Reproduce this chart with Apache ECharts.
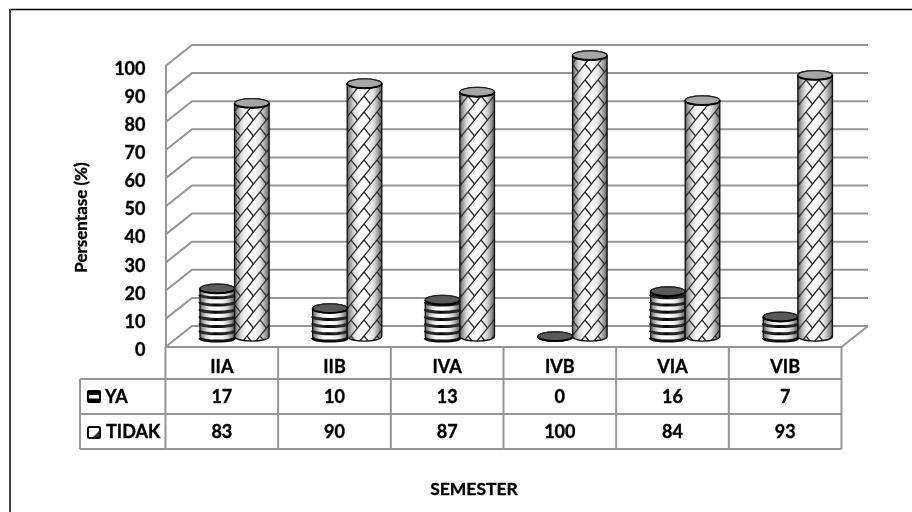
<!DOCTYPE html>
<html>
<head>
<meta charset="utf-8">
<style>html,body{margin:0;padding:0;background:#fff}#chart{width:912px;height:512px}</style>
<script src="https://cdn.jsdelivr.net/npm/echarts@6/dist/echarts.min.js"></script>
</head>
<body>
<div id="chart"></div>
<script>
// Survey shares per semester class
const categories = ['IIA', 'IIB', 'IVA', 'IVB', 'VIA', 'VIB'];
const yaValues = [17, 10, 13, 0, 16, 7];
const tidakValues = [83, 90, 87, 100, 84, 93];
const yTicks = [0, 10, 20, 30, 40, 50, 60, 70, 80, 90, 100];

const FONT = 'Lato, "Open Sans", sans-serif';
const GREY = '#969696';
const INK = { color: '#000', fontFamily: FONT, fontWeight: 'bold', textBorderColor: '#000', textBorderWidth: 0.35 };
// Pseudo-3D geometry: the wall sits behind the axis plane, cylinders halfway between
const WALL_DX = 26.5, WALL_DY = -21;
const BAR_DX = 12.7, BAR_DY = -10.5, BAR_RX = 17.3, BAR_RY = 4.6;
const TABLE_LEFT = 80;
const ROWS = [347, 379, 414, 449];

// Woven lattice tile for the TIDAK cylinders
function latticeTile() {
  const w = 26, h = 32;
  const c = document.createElement('canvas');
  c.width = w; c.height = h;
  const g = c.getContext('2d');
  g.fillStyle = '#fff';
  g.fillRect(0, 0, w, h);
  g.strokeStyle = '#151515';
  g.lineWidth = 1.25;
  const sx = w / 24, sy = h / 24;
  const seg = (a, b, d, e) => {
    for (const ox of [-w, 0, w]) for (const oy of [-h, 0, h]) {
      g.beginPath();
      g.moveTo(a * sx + ox, b * sy + oy);
      g.lineTo(d * sx + ox, e * sy + oy);
      g.stroke();
    }
  };
  seg(24, 0, 0, 24); seg(12, 0, 0, 12); seg(24, 12, 12, 24);
  seg(0, 0, 6, 6); seg(12, 12, 18, 18); seg(12, 0, 18, 6); seg(0, 12, 6, 18);
  return c;
}
const lattice = latticeTile();

const shade = {
  type: 'linear', x: 0, y: 0, x2: 1, y2: 0,
  colorStops: [
    { offset: 0, color: 'rgba(30,30,30,0.8)' },
    { offset: 0.2, color: 'rgba(120,120,120,0.3)' },
    { offset: 0.45, color: 'rgba(255,255,255,0)' },
    { offset: 0.75, color: 'rgba(120,120,120,0.25)' },
    { offset: 1, color: 'rgba(30,30,30,0.8)' }
  ]
};

function bodyPath(x0, x1, yt, yb) {
  return `M ${x0} ${yt} L ${x0} ${yb} A ${BAR_RX} ${BAR_RY} 0 0 0 ${x1} ${yb} ` +
         `L ${x1} ${yt} A ${BAR_RX} ${BAR_RY} 0 0 0 ${x0} ${yt} Z`;
}

// One cylinder per category; side is -1 for YA, +1 for TIDAK
function cylinder(side, striped) {
  return function (params, api) {
    const top = api.coord([api.value(0), api.value(1)]);
    const base = api.coord([api.value(0), 0]);
    const cx = top[0] + BAR_DX + side * BAR_RX;
    const x0 = cx - BAR_RX, x1 = cx + BAR_RX;
    const yt = top[1] + BAR_DY, yb = base[1] + BAR_DY;
    const d = bodyPath(x0, x1, yt, yb);
    const kids = [];
    kids.push({
      type: 'path', shape: { pathData: d },
      style: striped ? { fill: '#fff' } : { fill: { image: lattice, repeat: 'repeat' } }
    });
    if (striped && yb > yt) {
      // Horizontal bands follow the curve of the cylinder
      for (let y = yb + 1.5; y > yt + 2; y -= 7.2) {
        kids.push({
          type: 'path',
          shape: { pathData: `M ${x0} ${y} A ${BAR_RX} ${BAR_RY - 1.6} 0 0 0 ${x1} ${y}` },
          style: { fill: null, stroke: '#050505', lineWidth: 3 }
        });
      }
    }
    kids.push({
      type: 'path', shape: { pathData: d },
      style: { fill: shade, stroke: '#111', lineWidth: 1.3 }
    });
    kids.push({
      type: 'ellipse', shape: { cx: cx, cy: yt, rx: BAR_RX, ry: BAR_RY },
      style: { fill: striped ? '#5a5a5a' : '#a6a6a6', stroke: '#222', lineWidth: 1.2 }
    });
    kids.push({
      type: 'path',
      shape: { pathData: `M ${x0} ${yt} A ${BAR_RX} ${BAR_RY} 0 0 0 ${x1} ${yt}` },
      style: { fill: null, stroke: '#000', lineWidth: 2 }
    });
    return { type: 'group', children: kids };
  };
}

// Back wall rules with their slanted returns to the axis plane
function wallLine(params, api) {
  const sys = params.coordSys;
  const y = api.coord([0, api.value(1)])[1];
  const xa = sys.x, xb = sys.x + sys.width;
  const pts = [[xa, y], [xa + WALL_DX, y + WALL_DY], [xb + WALL_DX, y + WALL_DY]];
  const kids = [{
    type: 'polyline', shape: { points: pts },
    style: { fill: null, stroke: GREY, lineWidth: 2 }
  }];
  if (api.value(1) === 0) {
    kids.push({
      type: 'line',
      shape: { x1: xb, y1: y, x2: xb + WALL_DX, y2: y + WALL_DY },
      style: { stroke: GREY, lineWidth: 2 }
    });
  }
  return { type: 'group', children: kids };
}

function hline(x1, x2, y) {
  return { type: 'line', shape: { x1, y1: y, x2, y2: y }, style: { stroke: GREY, lineWidth: 2 } };
}
function vline(x, y1, y2) {
  return { type: 'line', shape: { x1: x, y1, x2: x, y2 }, style: { stroke: GREY, lineWidth: 2 } };
}
function cell(text, x, y, align) {
  return {
    type: 'text',
    style: {
      text: String(text), x, y, align: align || 'center', verticalAlign: 'middle',
      fill: '#000', stroke: '#000', lineWidth: 0.35, font: 'bold 18px ' + FONT
    }
  };
}

// Data table under the plot: one column per category, row heads on the first
function tableColumn(params, api) {
  const i = api.value(0);
  const sys = params.coordSys;
  const step = sys.width / categories.length;
  const c = api.coord([i, 0])[0];
  const xb = c + step / 2;
  const kids = [
    vline(xb, ROWS[0], ROWS[3]),
    hline(xb - step, xb, ROWS[1]),
    hline(xb - step, xb, ROWS[2]),
    hline(xb - step, xb, ROWS[3]),
    cell(yaValues[i], c, (ROWS[1] + ROWS[2]) / 2 + 0.5),
    cell(tidakValues[i], c, (ROWS[2] + ROWS[3]) / 2 + 0.5)
  ];
  if (i === 0) {
    const xa = sys.x;
    kids.push(
      vline(xa, ROWS[0], ROWS[3]),
      vline(TABLE_LEFT, ROWS[1], ROWS[3]),
      hline(TABLE_LEFT, xa, ROWS[1]),
      hline(TABLE_LEFT, xa, ROWS[2]),
      hline(TABLE_LEFT, xa, ROWS[3]),
      // Legend keys
      { type: 'rect', shape: { x: 87, y: 390, width: 14, height: 13, r: 2 }, style: { fill: '#000' } },
      { type: 'rect', shape: { x: 89, y: 395, width: 10, height: 3.5 }, style: { fill: '#fff' } },
      { type: 'rect', shape: { x: 88, y: 427, width: 12, height: 11, r: 1.5 }, style: { fill: '#fff', stroke: '#000', lineWidth: 2 } },
      { type: 'polygon', shape: { points: [[99, 431], [99, 437], [93, 437]] }, style: { fill: '#333' } },
      cell('YA', 105, 397, 'left'),
      cell('TIDAK', 106, 432, 'left')
    );
  }
  return { type: 'group', children: kids };
}

const chart = echarts.init(document.getElementById('chart'), null, { renderer: 'canvas' });
chart.setOption({
  animation: false,
  backgroundColor: '#fff',
  grid: { left: 165.5, right: 70.5, top: 66, bottom: 165 },
  xAxis: {
    type: 'category',
    data: categories,
    axisTick: { show: false },
    axisLine: { show: true, lineStyle: { color: GREY, width: 2 } },
    axisLabel: Object.assign({ interval: 0, margin: 11, fontSize: 18 }, INK),
    name: 'SEMESTER',
    nameLocation: 'middle',
    nameGap: 133,
    nameTextStyle: Object.assign({ fontSize: 17.5, padding: [0, 59, 0, 0] }, INK)
  },
  yAxis: {
    type: 'value',
    min: 0,
    max: 100,
    interval: 10,
    axisTick: { show: false },
    splitLine: { show: false },
    axisLine: { show: true, lineStyle: { color: GREY, width: 2 } },
    axisLabel: Object.assign({ margin: 20, fontSize: 18, verticalAlign: 'top', lineHeight: 6 }, INK),
    name: 'Persentase (%)',
    nameLocation: 'middle',
    nameGap: 75,
    nameTextStyle: Object.assign({ fontSize: 17, padding: [0, 22, 0, 0] }, INK)
  },
  series: [
    {
      name: 'wall', type: 'custom', silent: true, z: 1,
      data: yTicks.map(v => [0, v]),
      encode: { x: 0, y: 1 },
      renderItem: wallLine
    },
    {
      name: 'YA', type: 'custom', z: 3,
      data: yaValues.map((v, i) => [i, v]),
      encode: { x: 0, y: 1 },
      renderItem: cylinder(-1, true)
    },
    {
      name: 'TIDAK', type: 'custom', z: 4,
      data: tidakValues.map((v, i) => [i, v]),
      encode: { x: 0, y: 1 },
      renderItem: cylinder(1, false)
    },
    {
      name: 'table', type: 'custom', silent: true, z: 2,
      data: categories.map((c, i) => [i, 0]),
      encode: { x: 0, y: 1 },
      renderItem: tableColumn
    }
  ],
  graphic: [
    { type: 'line', silent: true, shape: { x1: 10, y1: 9.5, x2: 912, y2: 9.5 }, style: { stroke: '#000', lineWidth: 1.5 } },
    { type: 'line', silent: true, shape: { x1: 10, y1: 9, x2: 10, y2: 512 }, style: { stroke: '#444', lineWidth: 2 } }
  ]
});
</script>
</body>
</html>
